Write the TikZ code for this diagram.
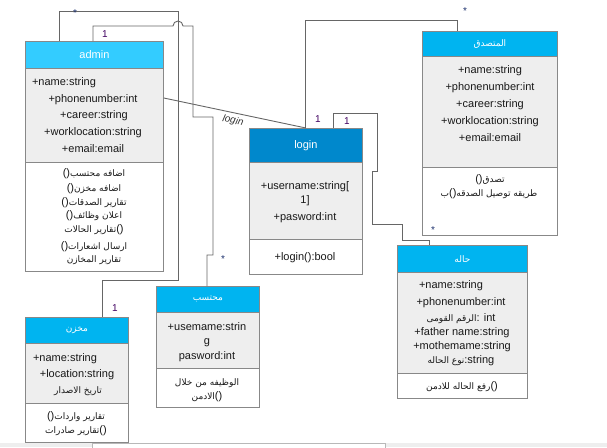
\documentclass[tikz,border=0pt]{standalone}
\usepackage{fontspec}
\setmainfont{Liberation Sans}
\newfontfamily\arabicfont[Script=Arabic]{DejaVu Sans}
\TeXXeTstate=1
\usetikzlibrary{calc}
\definecolor{adminblue}{RGB}{51,204,255}
\definecolor{loginblue}{RGB}{0,136,204}
\definecolor{classblue}{RGB}{0,180,240}
\definecolor{attrgray}{RGB}{238,238,238}
\definecolor{boxgray}{RGB}{136,136,136}
\definecolor{linkgray}{RGB}{102,102,102}
\definecolor{multcol}{RGB}{64,0,96}
\definecolor{starcol}{RGB}{30,50,110}
\newcommand{\artxt}[1]{{\arabicfont\fontsize{9}{11}\selectfont\beginR #1\endR}}
\tikzset{
	headbox/.style={rectangle, draw=boxgray, fill=#1, text=white, anchor=north west, inner sep=0pt, line width=0.8pt},
	attrbox/.style={rectangle, draw=boxgray, fill=attrgray, anchor=north west, inner sep=0pt, line width=0.8pt},
	opsbox/.style={rectangle, draw=boxgray, fill=white, anchor=north west, inner sep=0pt, line width=0.8pt},
	member/.style={text=black!90, inner sep=0pt, text height=8pt, text depth=2pt},
	assoc/.style={draw=linkgray, line width=0.9pt},
	multlabel/.style={text=multcol, inner sep=0pt, font=\fontsize{10}{12}\selectfont},
	starlabel/.style={text=starcol, inner sep=0pt, font=\fontsize{10}{12}\selectfont}
}
\begin{document}
\begin{tikzpicture}[x=1pt, y=-1pt, font=\fontsize{11}{13}\selectfont]
	\useasboundingbox (0,0) rectangle (607,447);

	%% classes
	\node[headbox=adminblue, minimum width=138, minimum height=27] (admin) at (25,41) {admin};
	\node[attrbox, minimum width=138, minimum height=94] (adminattr) at (25,68) {};
	\node[opsbox, minimum width=138, minimum height=109] (adminops) at (25,162) {};

	\node[headbox=loginblue, minimum width=113, minimum height=34] (login) at (249,128) {login};
	\node[attrbox, minimum width=113, minimum height=77] (loginattr) at (249,162) {};
	\node[opsbox, minimum width=113, minimum height=35] (loginops) at (249,239) {};

	\node[headbox=classblue, minimum width=135, minimum height=25] (mutasaddiq) at (422,31) {\artxt{المتصدق}};
	\node[attrbox, minimum width=135, minimum height=111] (mutasaddiqattr) at (422,56) {};
	\node[opsbox, minimum width=135, minimum height=68] (mutasaddiqops) at (422,167) {};

	\node[headbox=classblue, minimum width=130, minimum height=27] (hala) at (397,245) {\artxt{حاله}};
	\node[attrbox, minimum width=130, minimum height=101] (halaattr) at (397,272) {};
	\node[opsbox, minimum width=130, minimum height=25] (halaops) at (397,373) {};

	\node[headbox=classblue, minimum width=103, minimum height=26] (makhzan) at (25,317) {\artxt{مخزن}};
	\node[attrbox, minimum width=103, minimum height=60] (makhzanattr) at (25,343) {};
	\node[opsbox, minimum width=103, minimum height=39] (makhzanops) at (25,403) {};

	\node[headbox=classblue, minimum width=103, minimum height=26] (muhtaseb) at (156,286) {\artxt{محتسب}};
	\node[attrbox, minimum width=103, minimum height=56] (muhtasebattr) at (156,312) {};
	\node[opsbox, minimum width=103, minimum height=39] (muhtasebops) at (156,368) {};

	%% members
	\foreach \t/\px/\py [count=\i] in {+name:string/64/82, +phonenumber:int/93/99, +career:string/94/115,
		+worklocation:string/93/132, +email:email/93/149}
		\node[member] (adminattr\i) at (\px,\py) {\t};
	\foreach \t/\py [count=\i] in {{()\artxt{اضافه محتسب}}/173, {()\artxt{اضافه مخزن}}/188,
		{()\artxt{تقارير الصدقات}}/202, {()\artxt{اعلان وظائف}}/215, {\artxt{تقارير الحالات}()}/229,
		{()\artxt{ارسال اشعارات}}/246, {\artxt{تقارير المخازن}}/259}
		\node[member] (adminops\i) at (94,\py) {\t};

	\foreach \t/\py [count=\i] in {+username:string[/186, 1]/200, +pasword:int/217}
		\node[member] (loginattr\i) at (305,\py) {\t};
	\node[member] (loginops1) at (305,257) {+login():bool};

	\foreach \t/\py [count=\i] in {+name:string/70, +phonenumber:int/87, +career:string/104,
		+worklocation:string/121, +email:email/138}
		\node[member] (mutasaddiqattr\i) at (490,\py) {\t};
	\node[member] (mutasaddiqops1) at (490,179) {()\artxt{تصدق}};
	\node[member] (mutasaddiqops2) at (489,193) {\artxt{ب}()\artxt{طريقه توصيل الصدقه}};

	\foreach \t/\px/\py [count=\i] in {+name:string/451/285, +phonenumber:int/461/302,
		{\artxt{الرقم القومى}: int}/461/318, +father name:string/462/332,
		+mothemame:string/462/346, {\artxt{نوع الحاله}:string}/461/360}
		\node[member] (halaattr\i) at (\px,\py) {\t};
	\node[member] (halaops1) at (462,386) {\artxt{رفع الحاله للادمن}()};

	\foreach \t/\px/\py [count=\i] in {+name:string/65/358, +location:string/77/374,
		{\artxt{تاريخ الاصدار}}/78/390}
		\node[member] (makhzanattr\i) at (\px,\py) {\t};
	\node[member] (makhzanops1) at (76,416) {()\artxt{تقارير واردات}};
	\node[member] (makhzanops2) at (76,430) {\artxt{تقارير صادرات}()};

	\foreach \t/\py [count=\i] in {+usemame:strin/327, g/341, pasword:int/356}
		\node[member] (muhtasebattr\i) at (207,\py) {\t};
	\node[member] (muhtasebops1) at (207,382) {\artxt{الوظيفه من خلال}};
	\node[member] (muhtasebops2) at (207,396) {\artxt{الادمن}()};

	%% connection points
	\coordinate (adminA)      at ($(admin.north west)+(34,0)$);
	\coordinate (adminB)      at ($(admin.north west)+(68,0)$);
	\coordinate (adminC)      at ($(adminattr.north east)+(0,30)$);
	\coordinate (loginB)      at ($(login.north west)+(84,0)$);
	\coordinate (mutasaddiqA) at ($(mutasaddiq.north west)+(35,0)$);
	\coordinate (halaA)       at ($(hala.north west)+(32,0)$);
	\coordinate (makhzanA)    at ($(makhzan.north west)+(77,0)$);
	\coordinate (muhtasebA)   at ($(muhtaseb.north west)+(51,0)$);

	%% associations
	\draw[assoc] (adminA) |- (178,11) |- (102,280) -- (makhzanA);
	\draw[assoc] (adminB) |- (173,26) arc[start angle=180, end angle=0, radius=5pt]
		-- (193,26) |- (213,117) |- (207,255) -- (muhtasebA);
	\draw[assoc] (adminC) -- (login.north);
	\draw[assoc] (login.north) |- (457,20) -- (mutasaddiqA);
	\draw[assoc] (loginB) |- (377,113) |- (372,171) |- (402,224) |- (429,240) -- (halaA);

	%% multiplicities
	\node[starlabel] (m1) at (75,13) {*};
	\node[multlabel] (m2) at (105,34) {1};
	\node[multlabel] (m3) at (115,308) {1};
	\node[starlabel] (m4) at (223,259) {*};
	\node[multlabel] (m5) at (318,119) {1};
	\node[multlabel] (m6) at (347,121) {1};
	\node[starlabel] (m7) at (465,11) {*};
	\node[starlabel] (m8) at (433,230) {*};
	\node[text=black!80, inner sep=0pt, rotate=-12, font=\itshape\fontsize{10}{12}\selectfont] (loginlabel) at (233,121) {login};

	%% frame strip at the bottom
	\fill[attrgray] (0,443) rectangle (607,447);
	\draw[boxgray!60, fill=white] (92,447.5) |- (385,443) -- (385,447.5);
\end{tikzpicture}
\end{document}
